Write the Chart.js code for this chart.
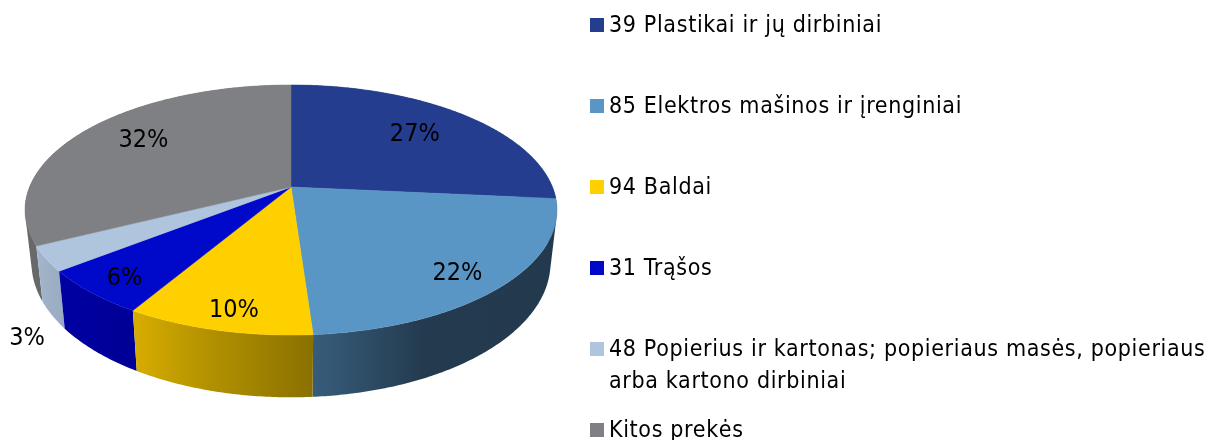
<!DOCTYPE html>
<html>
<head>
<meta charset="utf-8">
<title>Eksporto struktūra</title>
<style>
    html, body { margin: 0; padding: 0; background: #fff; overflow: hidden; }
    #pieChart { display: block; }
</style>
<script src="https://cdn.jsdelivr.net/npm/chart.js@4/dist/chart.umd.min.js"></script>
</head>
<body>
<canvas id="pieChart" width="1210" height="440"></canvas>
<script>
// Chart data
const CATEGORIES = [
    '39 Plastikai ir jų dirbiniai',
    '85 Elektros mašinos ir įrenginiai',
    '94 Baldai',
    '31 Trąšos',
    ['48 Popierius ir kartonas; popieriaus masės, popieriaus', 'arba kartono dirbiniai'],
    'Kitos prekės'
];
const SHARES = [26.5, 22.4, 9.6, 5.9, 3.2, 32.4];

// Colours
const TOP_COLORS = ['#253d8f', '#5a96c5', '#ffd000', '#0009c9', '#afc4dd', '#7e8083'];
const SIDE_COLORS = [
    ['#233a4e', '#233a4e', '#233a4e'],
    ['#375d7c', '#243b4f', '#233a4e'],
    ['#d8ad00', '#b09000', '#8a7000'],
    ['#0000a4', '#00009c', '#000096'],
    ['#a3b6cc', '#9db0c6', '#98abc0'],
    ['#66686a', '#6a6c6e', '#727476']
];

const FONT = '"DejaVu Sans Condensed", "DejaVu Sans", sans-serif';

// Perspective of the tilted pie, relative to the radius the library gives
const TILT = { k: 0.184, a: 1.398, b: 0.646, bottomA: 1.364, bottomB: 0.695, bottomY: 0.273 };

// Label placement: fraction of the radius, then a small nudge in pixels
const LABEL_RADIUS = [0.72, 0.84, 0.87, 0.87, 1, 0.75];
const LABEL_NUDGE = [[-4, 1], [-6, 5], [5, 2], [4, 2], [-19, 80], [8, -2]];

// Legend layout
const LEGEND = { box: 14, boxX: 590, textX: 609, firstY: 25, rowStep: 81, lineStep: 32, textDrop: 1 };

// Project a pie angle on the top face of the pie
function projectTop(arc, angle, radius) {
    const u = Math.cos(angle) * radius;
    const v = Math.sin(angle) * radius;
    const w = 1 - TILT.k * v;
    return {
        x: arc.x + arc.outerRadius * TILT.a * u / w,
        y: arc.y + arc.outerRadius * TILT.b * v / w
    };
}

// Same thing for the rim of the bottom face
function projectBottom(arc, angle) {
    const u = Math.cos(angle);
    const v = Math.sin(angle);
    const w = 1 - TILT.k * v;
    return {
        x: arc.x + arc.outerRadius * TILT.bottomA * u / w,
        y: arc.y + arc.outerRadius * (TILT.bottomY + TILT.bottomB * v / w)
    };
}

function rimAngles(arc) {
    const steps = Math.max(2, Math.ceil((arc.endAngle - arc.startAngle) / 0.01));
    const angles = [];
    for (let i = 0; i <= steps; i++) {
        angles.push(arc.startAngle + (arc.endAngle - arc.startAngle) * i / steps);
    }
    return angles;
}

function tracePoints(ctx, points) {
    ctx.beginPath();
    addSubpath(ctx, points);
}

function addSubpath(ctx, points) {
    points.forEach((p, i) => {
        if (i === 0) ctx.moveTo(p.x, p.y);
        else ctx.lineTo(p.x, p.y);
    });
    ctx.closePath();
}

// Signed area, used to give every quad of a wall the same winding
function signedArea(points) {
    let area = 0;
    points.forEach((p, i) => {
        const q = points[(i + 1) % points.length];
        area += p.x * q.y - q.x * p.y;
    });
    return area;
}

// Outer wall of one slice, all quads in one path so the silhouette stays closed without seams
function drawSide(ctx, arc, colors) {
    const angles = rimAngles(arc);
    const top = angles.map(a => projectTop(arc, a, 1));
    const bottom = angles.map(a => projectBottom(arc, a));
    const xs = top.concat(bottom).map(p => p.x);
    const gradient = ctx.createLinearGradient(Math.min(...xs), 0, Math.max(...xs), 0);
    gradient.addColorStop(0, colors[0]);
    gradient.addColorStop(0.45, colors[1]);
    gradient.addColorStop(1, colors[2]);
    ctx.beginPath();
    for (let i = 0; i < angles.length - 1; i++) {
        const quad = [top[i], top[i + 1], bottom[i + 1], bottom[i]];
        addSubpath(ctx, signedArea(quad) < 0 ? quad.reverse() : quad);
    }
    ctx.fillStyle = gradient;
    ctx.fill();
}

// Top face of one slice
function drawTop(ctx, arc, color) {
    const points = rimAngles(arc).map(a => projectTop(arc, a, 1));
    points.unshift({ x: arc.x, y: arc.y });
    tracePoints(ctx, points);
    ctx.fillStyle = color;
    ctx.strokeStyle = color;
    ctx.lineWidth = 0.5;
    ctx.fill();
    ctx.stroke();
}

function drawLabels(ctx, arcs) {
    ctx.font = '25px ' + FONT;
    ctx.fillStyle = '#000';
    ctx.textAlign = 'center';
    ctx.textBaseline = 'middle';
    arcs.forEach((arc, i) => {
        const mid = (arc.startAngle + arc.endAngle) / 2;
        const p = projectTop(arc, mid, LABEL_RADIUS[i]);
        ctx.fillText(Math.round(SHARES[i]) + '%', p.x + LABEL_NUDGE[i][0], p.y + LABEL_NUDGE[i][1]);
    });
}

// Legend is drawn by hand because the rows are far apart and one of them wraps
function drawLegend(ctx) {
    ctx.font = '23px ' + FONT;
    ctx.letterSpacing = '0.65px';
    ctx.textAlign = 'left';
    ctx.textBaseline = 'middle';
    CATEGORIES.forEach((label, i) => {
        const y = LEGEND.firstY + LEGEND.rowStep * i;
        ctx.fillStyle = TOP_COLORS[i];
        ctx.fillRect(LEGEND.boxX, y - LEGEND.box / 2, LEGEND.box, LEGEND.box);
        ctx.fillStyle = '#000';
        [].concat(label).forEach((line, n) => {
            ctx.fillText(line, LEGEND.textX, y + LEGEND.textDrop + LEGEND.lineStep * n);
        });
    });
    ctx.letterSpacing = '0px';
}

// Replaces the flat arcs with the tilted ones, using the geometry of the library
const tiltedPie = {
    id: 'tiltedPie',
    beforeDatasetsDraw(chart) {
        const ctx = chart.ctx;
        const arcs = chart.getDatasetMeta(0).data.map(el =>
            el.getProps(['x', 'y', 'startAngle', 'endAngle', 'outerRadius'], true));
        ctx.save();
        // walls from the back to the front
        const order = arcs.map((arc, i) => i).sort((m, n) =>
            Math.sin((arcs[m].startAngle + arcs[m].endAngle) / 2) -
            Math.sin((arcs[n].startAngle + arcs[n].endAngle) / 2));
        order.forEach(i => drawSide(ctx, arcs[i], SIDE_COLORS[i]));
        arcs.forEach((arc, i) => drawTop(ctx, arc, TOP_COLORS[i]));
        drawLabels(ctx, arcs);
        drawLegend(ctx);
        ctx.restore();
        return false;
    }
};

// Initialize pie chart
function initPieChart() {
    const ctx = document.getElementById('pieChart');
    new Chart(ctx.getContext('2d'), {
        type: 'pie',
        data: {
            labels: CATEGORIES,
            datasets: [{
                data: SHARES,
                backgroundColor: TOP_COLORS,
                borderWidth: 0
            }]
        },
        options: {
            responsive: false,
            animation: false,
            layout: {
                padding: { left: 0, top: 0, right: 628, bottom: 66 }
            },
            plugins: {
                legend: { display: false },
                tooltip: { enabled: false }
            }
        },
        plugins: [tiltedPie]
    });
}

document.addEventListener('DOMContentLoaded', initPieChart);
</script>
</body>
</html>
